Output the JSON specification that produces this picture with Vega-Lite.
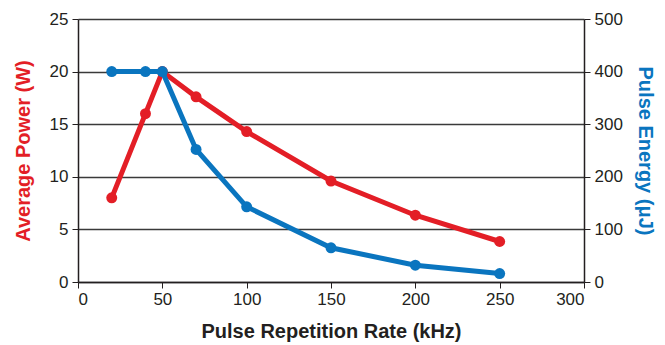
{
  "$schema": "https://vega.github.io/schema/vega-lite/v6.json",
  "autosize": "none",
  "width": 506,
  "height": 263,
  "padding": {"left": 78, "top": 19, "right": 81, "bottom": 63},
  "background": "white",
  "config": {
    "view": {"stroke": null},
    "axis": {"labelFont": "Liberation Sans", "titleFont": "Liberation Sans", "labelFontSize": 17, "labelColor": "#231f20", "domainColor": "#231f20", "tickColor": "#231f20", "domainWidth": 1.5, "tickSize": 6, "titleFontWeight": "bold", "titleFontSize": 20}
  },
  "data": {"values": [
    {"rate": 20, "power": 8.0, "energy": 400},
    {"rate": 40, "power": 16.0, "energy": 400},
    {"rate": 50, "power": 20.0, "energy": 400},
    {"rate": 70, "power": 17.6, "energy": 252},
    {"rate": 100, "power": 14.3, "energy": 143},
    {"rate": 150, "power": 9.6, "energy": 65},
    {"rate": 200, "power": 6.35, "energy": 32},
    {"rate": 250, "power": 3.85, "energy": 16}
  ]},
  "encoding": {
    "x": {"field": "rate", "type": "quantitative", "scale": {"domain": [0, 300]},
      "axis": {"title": "Pulse Repetition Rate (kHz)", "values": [0, 50, 100, 150, 200, 250, 300], "grid": false, "titleColor": "#231f20", "titlePadding": 14, "labelPadding": 3}}
  },
  "layer": [
    {
      "layer": [
        {"mark": {"type": "line", "color": "#e31e26", "strokeWidth": 5}},
        {"mark": {"type": "point", "filled": true, "opacity": 1, "color": "#e31e26", "size": 120}}
      ],
      "encoding": {
        "y": {"field": "power", "type": "quantitative", "scale": {"domain": [0, 25]},
          "axis": {"title": "Average Power (W)", "titleColor": "#e31e26", "values": [0, 5, 10, 15, 20, 25], "grid": true, "gridColor": "#3a3a3a", "gridWidth": 1.3, "titlePadding": 16, "labelPadding": 4}}
      }
    },
    {
      "layer": [
        {"mark": {"type": "line", "color": "#0a75bf", "strokeWidth": 5}},
        {"mark": {"type": "point", "filled": true, "opacity": 1, "color": "#0a75bf", "size": 120}}
      ],
      "encoding": {
        "y": {"field": "energy", "type": "quantitative", "scale": {"domain": [0, 500]},
          "axis": {"title": "Pulse Energy (μJ)", "orient": "right", "titleColor": "#0a75bf", "values": [0, 100, 200, 300, 400, 500], "grid": false, "titlePadding": 12, "labelPadding": 4}}
      }
    }
  ],
  "resolve": {"scale": {"y": "independent"}}
}
